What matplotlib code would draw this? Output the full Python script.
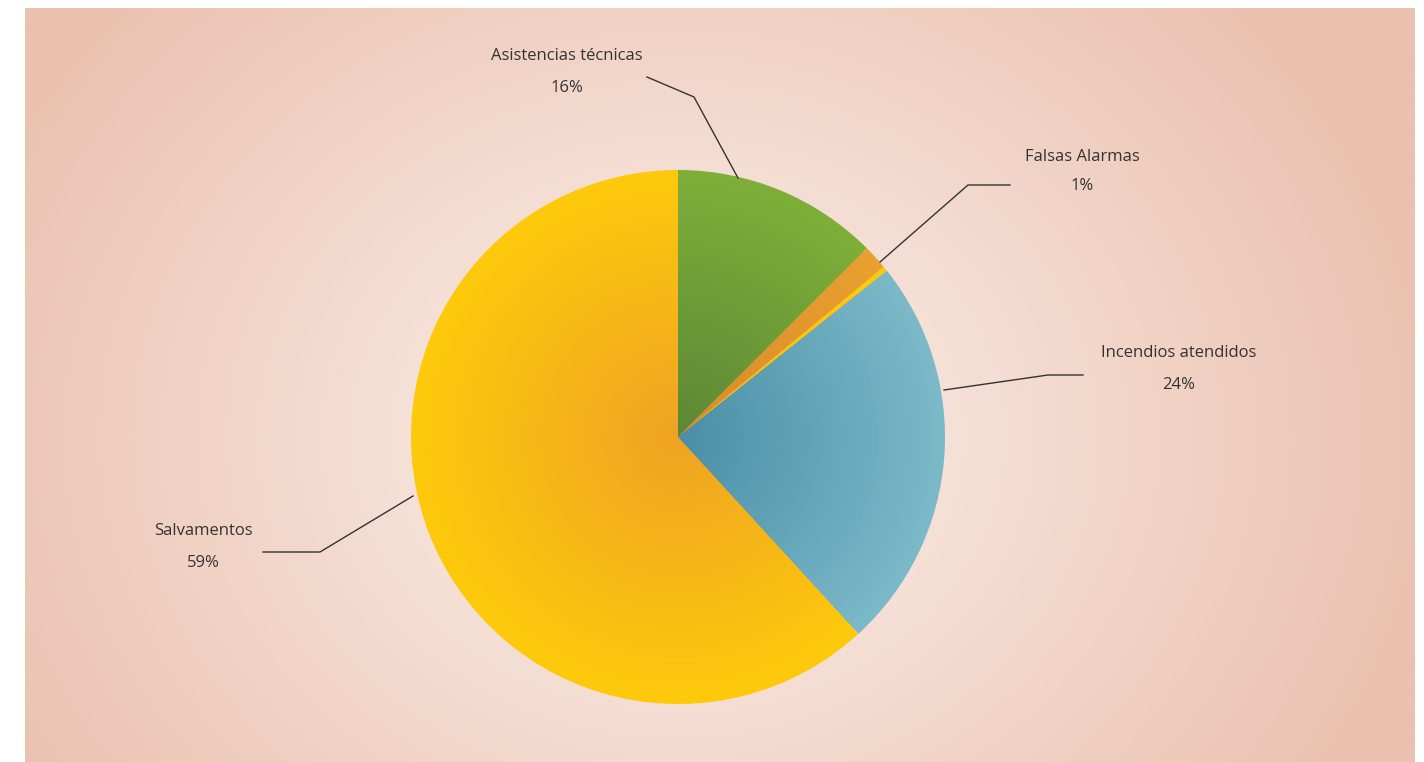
import matplotlib
matplotlib.use("Agg")

import matplotlib.pyplot as plt
import matplotlib.colors as mcolors
import numpy as np

# --- data (slice sizes as drawn, labels as printed) ---
categories = ["Asistencias técnicas", "Falsas Alarmas", "", "Incendios atendidos", "Salvamentos"]
values = [12.5, 1.5, 0.3, 23.9, 61.8]
label_pcts = ["16%", "1%", "", "24%", "59%"]

# colours: (edge, centre) per slice
EDGE_C = ["#7dae38", "#e8a030", "#fec90b", "#7bb8c8", "#fec90b"]
CENTER_C = ["#5c8736", "#d98a28", "#fbbf10", "#4a8ea6", "#eea323"]

BG_CENTER = "#fdf7f3"
BG_EDGE = "#ebc1af"
TXT = "#333333"

W, H = 1424, 762
fig = plt.figure(figsize=(W / 100, H / 100), dpi=100, facecolor="white")
ax = fig.add_axes([0, 0, 1, 1])
ax.set_xlim(0, W)
ax.set_ylim(0, H)
ax.set_aspect("equal")
ax.axis("off")

# radial background gradient
x0, x1, y0, y1 = 25, 1415, 0, 754
gx, gy = np.meshgrid(np.linspace(x0, x1, 400), np.linspace(y0, y1, 220))
cx, cy = 678, 325
d = np.sqrt(((gx - cx) / 780) ** 2 + ((gy - cy) / 660) ** 2)
d = np.clip(d, 0, 1) ** 0.85
c0 = np.array(mcolors.to_rgb(BG_CENTER))
c1 = np.array(mcolors.to_rgb(BG_EDGE))
img = c0 + (c1 - c0) * d[..., None]
ax.imshow(img, extent=[x0, x1, y0, y1], origin="lower", zorder=0, interpolation="bilinear")

# pie drawn as stacked shrinking pies to fake the radial shading
R = 267
steps = 40
for k in range(steps):
    t = k / (steps - 1)
    r = R * (1 - t * 0.98)
    cols = [tuple(np.array(mcolors.to_rgb(e)) * (1 - t) + np.array(mcolors.to_rgb(c)) * t)
            for e, c in zip(EDGE_C, CENTER_C)]
    ax.pie(values, colors=cols, startangle=90, counterclock=False,
           center=(cx, cy), radius=r, frame=True,
           wedgeprops=dict(linewidth=0))
ax.set_xlim(0, W)
ax.set_ylim(0, H)
ax.axis("off")

# leader lines (pixel coords, y from top)
def py(y):
    return H - y

leaders = [
    [(738, 178), (694, 97), (647, 77)],
    [(880, 262), (968, 185), (1010, 185)],
    [(944, 390), (1048, 375), (1083, 375)],
    [(413, 496), (320, 552), (263, 552)],
]
for pts in leaders:
    xs = [p[0] for p in pts]
    ys = [py(p[1]) for p in pts]
    ax.plot(xs, ys, color="#333333", lw=1.0, zorder=5)

label_pos = [(567, 56, 88), (1082, 157, 186), None, (1179, 353, 385), (203, 531, 563)]
for name, pct, pos in zip(categories, label_pcts, label_pos):
    if pos is None:
        continue
    x, yl, yp = pos
    ax.text(x, py(yl), name, ha="center", va="center", fontsize=12,
            family="Open Sans", color=TXT, zorder=6)
    ax.text(x, py(yp), pct, ha="center", va="center", fontsize=12,
            family="Open Sans", color=TXT, zorder=6)

fig.savefig("out.png", dpi=100, facecolor="white")
